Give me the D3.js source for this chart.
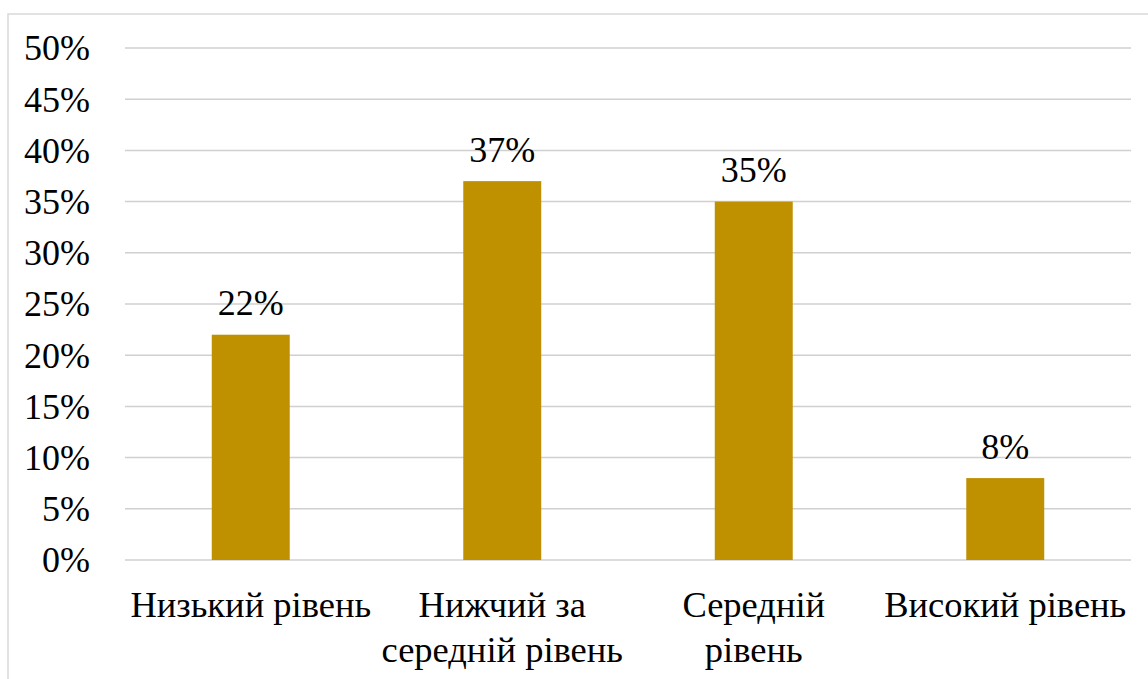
<!DOCTYPE html>
<html><head><meta charset="utf-8">
<script src="https://cdn.jsdelivr.net/npm/d3@7"></script>
</head>
<body style="margin:0;background:#fff">
<script>
const categories = ["Низький рівень", "Нижчий за середній рівень", "Середній рівень", "Високий рівень"];
const categoryLines = [["Низький рівень"], ["Нижчий за", "середній рівень"], ["Середній", "рівень"], ["Високий рівень"]];
const values = [22, 37, 35, 8];
const yTicks = [0, 5, 10, 15, 20, 25, 30, 35, 40, 45, 50];

(function () {
const W = 1148, H = 679;
const FONT = "'Liberation Serif', 'Times New Roman', serif";
const svg = d3.select("body").append("svg").attr("width", W).attr("height", H)
  .style("display", "block").style("font-family", FONT);

// outer chart border
svg.append("rect").attr("x", 8).attr("y", 14).attr("width", W + 20).attr("height", H + 20)
  .attr("fill", "none").attr("stroke", "#d9d9d9").attr("stroke-width", 1.5);

const mLeft = 125, mRight = 1131, mTop = 48, mBottom = 560;
const x = d3.scaleBand().domain(categories).range([mLeft, mRight]).paddingInner(0.69).paddingOuter(0.345);
const y = d3.scaleLinear().domain([0, 50]).range([mBottom, mTop]);

// gridlines
svg.append("g").selectAll("line").data(yTicks).join("line")
  .attr("x1", mLeft).attr("x2", mRight)
  .attr("y1", d => y(d)).attr("y2", d => y(d))
  .attr("stroke", "#d0d0d0").attr("stroke-width", 1.5);

// y axis labels
const yAxis = d3.axisLeft(y).tickValues(yTicks).tickFormat(d => d + "%").tickSize(0).tickPadding(0);
const gy = svg.append("g").attr("transform", "translate(90,0)").call(yAxis);
gy.attr("font-family", null).attr("font-size", null);
gy.select(".domain").remove();
gy.selectAll("text")
  .style("font-family", FONT).style("font-size", "36px").attr("fill", "#000")
  .attr("dy", "0.33em");

// bars
svg.append("g").selectAll("rect").data(values).join("rect")
  .attr("x", (d, i) => x(categories[i]))
  .attr("width", x.bandwidth())
  .attr("y", d => y(d))
  .attr("height", d => y(0) - y(d))
  .attr("fill", "#bf9000");

// data labels
svg.append("g").selectAll("text").data(values).join("text")
  .attr("x", (d, i) => x(categories[i]) + x.bandwidth() / 2)
  .attr("y", d => y(d) - 19.5)
  .attr("text-anchor", "middle")
  .style("font-family", FONT).style("font-size", "36px").attr("fill", "#000")
  .text(d => d + "%");

// category labels
const gx = svg.append("g");
categories.forEach((c, i) => {
  const cx = x(c) + x.bandwidth() / 2;
  const t = gx.append("text").attr("x", cx).attr("y", 617)
    .attr("text-anchor", "middle")
    .style("font-family", FONT).style("font-size", "36.5px").attr("fill", "#000");
  categoryLines[i].forEach((ln, j) => {
    t.append("tspan").attr("x", cx).attr("y", 617 + j * 45).text(ln);
  });
});
})();
</script>
</body></html>
